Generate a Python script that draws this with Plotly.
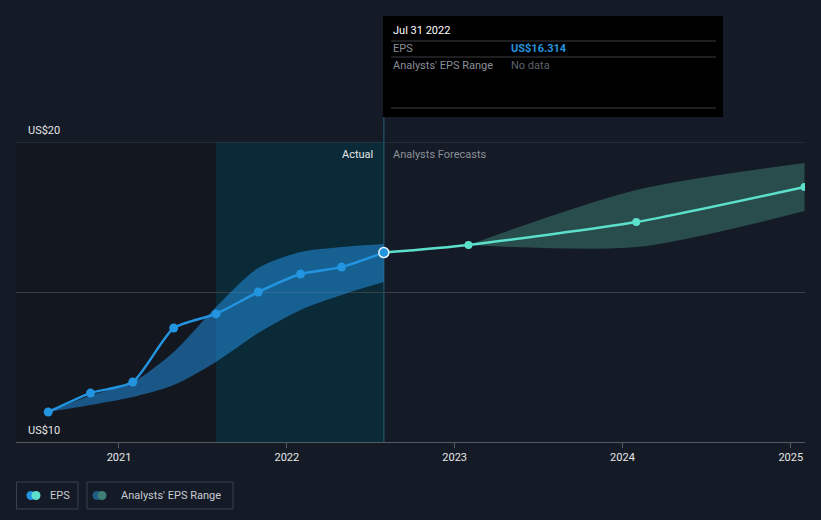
import plotly.graph_objects as go

# ---- data ----
actual_dates = ["2020-07-31", "2020-10-31", "2021-01-31", "2021-04-30", "2021-07-31",
                "2021-10-31", "2022-01-31", "2022-04-30", "2022-07-31"]
actual_eps = [11.0, 11.63, 12.0, 13.8, 14.27, 15.0, 15.6, 15.83, 16.314]
past_range_high = [11.0, 11.55, 12.0, 13.0, 14.5, 15.8, 16.33, 16.5, 16.6]
past_range_low = [11.0, 11.23, 11.5, 11.9, 12.67, 13.63, 14.4, 14.9, 15.33]

fc_dates = ["2022-07-31", "2023-01-31", "2024-01-31", "2025-01-31"]
fc_eps = [16.314, 16.57, 17.33, 18.5]
fc_range_dates = ["2023-01-31", "2024-01-31", "2025-01-31"]
fc_range_high = [16.57, 18.4, 19.3]
fc_range_low = [16.57, 16.5, 17.7]

year_ticks = ["2021-01-01", "2022-01-01", "2023-01-01", "2024-01-01", "2025-01-01"]
year_labels = ["2021", "2022", "2023", "2024", "2025"]

W, H = 821, 520
L, R, T, B = 16, 805, 142, 442


def px(x):
    return (x - L) / (R - L)


def py(y):
    return (B - y) / (B - T)


BG = "#151b26"
BLUE = "#2394df"
MINT = "#5ce0cc"
FONT = "Roboto"

fig = go.Figure()

# historical band
fig.add_trace(go.Scatter(x=actual_dates, y=past_range_high, mode="lines",
                         line=dict(width=0, shape="spline", smoothing=0.8),
                         hoverinfo="skip", showlegend=False))
fig.add_trace(go.Scatter(x=actual_dates, y=past_range_low, mode="lines",
                         line=dict(width=0, shape="spline", smoothing=0.8),
                         fill="tonexty", fillcolor="rgba(33,140,220,0.55)",
                         hoverinfo="skip", showlegend=False))
# forecast band
fig.add_trace(go.Scatter(x=fc_range_dates, y=fc_range_high, mode="lines",
                         line=dict(width=0, shape="spline", smoothing=0.8),
                         hoverinfo="skip", showlegend=False))
fig.add_trace(go.Scatter(x=fc_range_dates, y=fc_range_low, mode="lines",
                         line=dict(width=0, shape="spline", smoothing=0.8),
                         fill="tonexty", fillcolor="rgba(80,170,150,0.35)",
                         hoverinfo="skip", showlegend=False))
# forecast line
fig.add_trace(go.Scatter(x=fc_dates, y=fc_eps, mode="lines+markers",
                         line=dict(color=MINT, width=2.5, shape="spline", smoothing=0.6),
                         marker=dict(size=8, color=MINT),
                         showlegend=False))
# actual line
fig.add_trace(go.Scatter(x=actual_dates, y=actual_eps, mode="lines+markers",
                         line=dict(color=BLUE, width=2.5, shape="spline", smoothing=0.6),
                         marker=dict(size=9, color=BLUE),
                         showlegend=False))
# highlighted last actual point
fig.add_trace(go.Scatter(x=[actual_dates[-1]], y=[actual_eps[-1]], mode="markers",
                         marker=dict(size=10, color=BLUE, line=dict(color="#e8f4ff", width=1.5)),
                         showlegend=False))

shapes = []
# dark past region
shapes.append(dict(type="rect", xref="paper", yref="paper", x0=0, x1=px(216), y0=0, y1=1,
                   fillcolor="#10151c", line=dict(width=0), layer="below", opacity=0.6))
# highlighted last year region
shapes.append(dict(type="rect", xref="x", yref="paper", x0="2021-07-31", x1="2022-07-31",
                   y0=0, y1=1, fillcolor="#0b2a38", line=dict(width=0), layer="below"))
# top grid line (US$20)
shapes.append(dict(type="line", xref="paper", yref="y", x0=0, x1=1, y0=20, y1=20,
                   line=dict(color="#3a3f48", width=1), layer="below"))
# vertical line at present (inside plot, behind traces)
shapes.append(dict(type="line", xref="x", yref="paper", x0="2022-07-31", x1="2022-07-31",
                   y0=0, y1=1, line=dict(color="#1d4b5c", width=1.5), layer="below"))
# vertical line above plot up to tooltip
shapes.append(dict(type="line", xref="x", yref="paper", x0="2022-07-31", x1="2022-07-31",
                   y0=1, y1=py(117), line=dict(color="#1d4b5c", width=1.5)))
# tooltip box
shapes.append(dict(type="rect", xref="paper", yref="paper", x0=px(383), x1=px(723),
                   y0=py(117), y1=py(16), fillcolor="#000000", line=dict(width=0)))
for yy in (41, 57, 108):
    shapes.append(dict(type="line", xref="paper", yref="paper", x0=px(391), x1=px(716),
                       y0=py(yy), y1=py(yy), line=dict(color="#3a3d42", width=1)))
# legend boxes
shapes.append(dict(type="rect", xref="paper", yref="paper", x0=px(16.5), x1=px(78), y0=py(509),
                   y1=py(482), line=dict(color="#3b414c", width=1), fillcolor="rgba(0,0,0,0)"))
shapes.append(dict(type="rect", xref="paper", yref="paper", x0=px(87), x1=px(233), y0=py(509),
                   y1=py(482), line=dict(color="#3b414c", width=1), fillcolor="rgba(0,0,0,0)"))
# legend icons
for cx, col in ((31, "#2394df"), (36, MINT), (97, "#1d5d86"), (102, "#3f7f76")):
    shapes.append(dict(type="circle", xref="paper", yref="paper",
                       x0=px(cx - 4.5), x1=px(cx + 4.5), y0=py(500), y1=py(491),
                       fillcolor=col, line=dict(width=0)))

ann = []


def text(x, y, s, color, size=11, anchor="left", bold=False):
    ann.append(dict(xref="paper", yref="paper", x=px(x), y=py(y), text=f"<b>{s}</b>" if bold else s,
                    showarrow=False, xanchor=anchor, yanchor="middle",
                    font=dict(family=FONT, size=size, color=color)))


text(26, 130, "US$20", "#e6e6e6")
text(26, 430, "US$10", "#e6e6e6")
text(375, 154, "Actual", "#e6e6e6", anchor="right")
text(391, 154, "Analysts Forecasts", "#8a8f98")
text(391, 30, "Jul 31 2022", "#ffffff")
text(391, 48, "EPS", "#8a8f98")
text(509, 48, "US$16.314", "#2394df", bold=True)
text(391, 66, "Analysts' EPS Range", "#8a8f98")
text(509, 66, "No data", "#5f636a")
text(48, 495, "EPS", "#c8ccd2")
text(119, 495, "Analysts' EPS Range", "#c8ccd2")

fig.update_layout(
    width=W, height=H,
    margin=dict(l=L, r=W - R, t=T, b=H - B),
    paper_bgcolor=BG, plot_bgcolor=BG,
    showlegend=False,
    shapes=shapes, annotations=ann,
    font=dict(family=FONT, color="#e6e6e6"),
    xaxis=dict(type="date", range=["2020-05-22", "2025-02-01"],
               tickvals=year_ticks, ticktext=year_labels,
               showgrid=False, zeroline=False,
               showline=True, linecolor="#555a63", linewidth=1,
               ticks="outside", ticklen=5, tickcolor="#555a63",
               tickfont=dict(family=FONT, size=11, color="#e6e6e6")),
    yaxis=dict(range=[10, 20], tickvals=[10, 15, 20], showticklabels=False,
               showgrid=True, gridcolor="#3a3f48", gridwidth=1, zeroline=False,
               fixedrange=True),
)

fig.write_html("out.html", config={"displayModeBar": False},
               post_script="document.body.style.margin='0';document.body.style.background='#151b26';")
